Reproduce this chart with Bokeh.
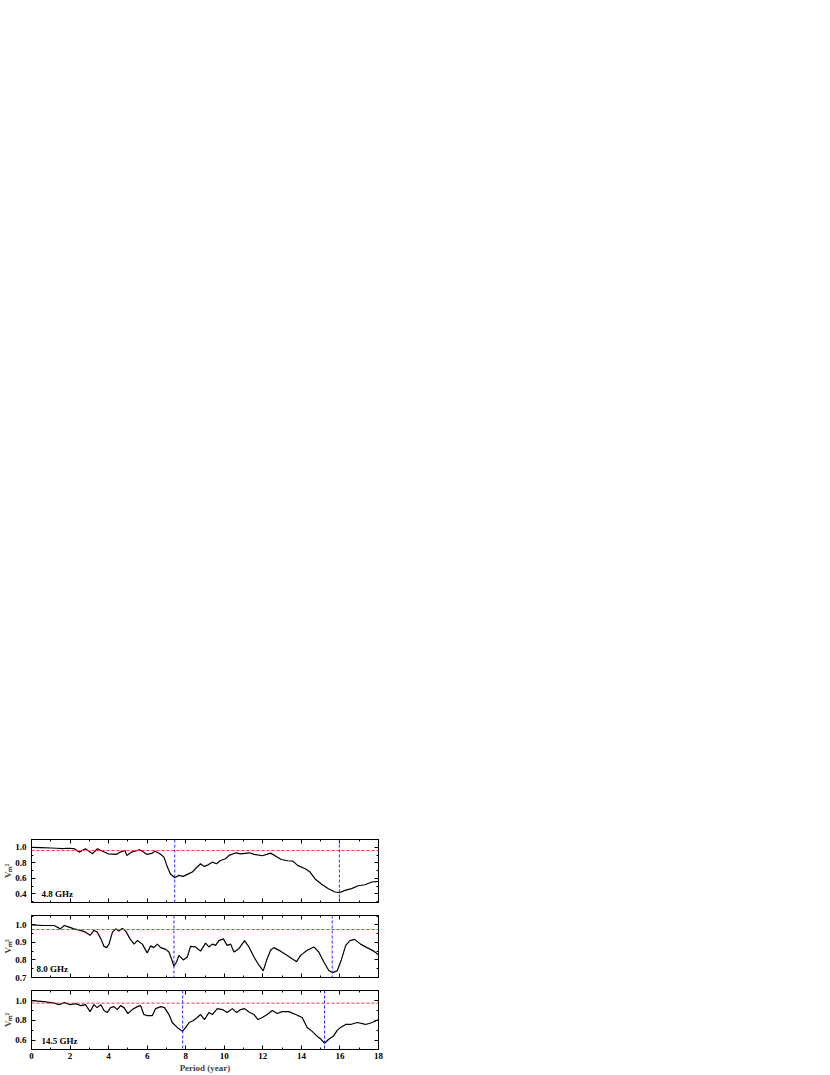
from bokeh.plotting import figure
from bokeh.layouts import column
from bokeh.models import (Range1d, LinearAxis, SingleIntervalTicker,
                          PrintfTickFormatter, Span, Label)
from bokeh.embed import file_html
from bokeh.resources import INLINE

# ---------------- data ----------------
period_48 = [0, 0.5, 1.0, 1.3, 1.6, 1.9, 2.2, 2.47, 2.8, 3.16, 3.42, 3.6, 3.98, 4.4, 4.6,
             4.85, 4.94, 5.2, 5.6, 5.75, 6.0, 6.27, 6.4, 6.66, 6.87, 7.05, 7.2, 7.43, 7.65,
             7.87, 8.08, 8.34, 8.5, 8.77, 8.94, 9.1, 9.38, 9.6, 9.8, 10.07, 10.25, 10.6,
             10.85, 11.3, 11.55, 11.98, 12.4, 12.7, 12.95, 13.3, 13.56, 13.8, 14.2, 14.45,
             14.7, 15.05, 15.4, 15.75, 15.97, 16.26, 16.6, 16.95, 17.3, 17.65, 18.0]
vm2_48 = [1.0, 0.997, 0.993, 0.99, 0.985, 0.99, 0.985, 0.94, 0.983, 0.918, 0.983, 0.961,
          0.918, 0.91, 0.94, 0.961, 0.897, 0.94, 0.97, 0.95, 0.91, 0.927, 0.95, 0.918,
          0.875, 0.746, 0.66, 0.609, 0.639, 0.626, 0.652, 0.682, 0.725, 0.789, 0.755,
          0.768, 0.81, 0.789, 0.832, 0.854, 0.897, 0.931, 0.918, 0.931, 0.91, 0.893,
          0.927, 0.884, 0.844, 0.828, 0.823, 0.768, 0.725, 0.682, 0.596, 0.523, 0.467,
          0.424, 0.415, 0.445, 0.467, 0.505, 0.518, 0.553, 0.561]

period_80 = [0, 0.65, 1.17, 1.5, 1.7, 1.95, 2.2, 2.55, 2.8, 3.04, 3.24, 3.4, 3.6, 3.76,
             3.9, 4.02, 4.2, 4.37, 4.54, 4.7, 4.89, 5.11, 5.32, 5.49, 5.75, 6.0, 6.18,
             6.35, 6.53, 6.7, 6.96, 7.13, 7.25, 7.39, 7.53, 7.65, 7.87, 8.08, 8.25, 8.51,
             8.77, 9.03, 9.2, 9.38, 9.55, 9.72, 9.95, 10.15, 10.33, 10.5, 10.76, 11.05,
             11.28, 11.54, 11.8, 12.02, 12.2, 12.4, 12.57, 12.92, 13.35, 13.75, 13.96,
             14.3, 14.65, 14.9, 15.16, 15.42, 15.6, 15.86, 16.07, 16.3, 16.52, 16.76,
             17.07, 17.4, 17.76, 18.0]
vm2_80 = [1.0, 0.996, 0.996, 0.977, 0.996, 0.987, 0.977, 0.968, 0.958, 0.94, 0.968, 0.96,
          0.92, 0.877, 0.87, 0.89, 0.958, 0.977, 0.964, 0.98, 0.964, 0.92, 0.89, 0.91,
          0.89, 0.84, 0.88, 0.87, 0.89, 0.87, 0.86, 0.845, 0.81, 0.764, 0.79, 0.826, 0.80,
          0.817, 0.877, 0.874, 0.85, 0.896, 0.874, 0.89, 0.883, 0.91, 0.92, 0.883, 0.89,
          0.845, 0.864, 0.91, 0.874, 0.817, 0.77, 0.738, 0.80, 0.855, 0.87, 0.85, 0.82,
          0.79, 0.826, 0.855, 0.874, 0.845, 0.79, 0.74, 0.728, 0.738, 0.80, 0.883, 0.91,
          0.917, 0.89, 0.87, 0.85, 0.83]

period_145 = [0, 0.65, 1.17, 1.43, 1.7, 2.0, 2.3, 2.55, 2.8, 3.04, 3.24, 3.4, 3.6, 3.76,
              3.93, 4.1, 4.28, 4.45, 4.62, 4.8, 5.0, 5.23, 5.49, 5.66, 5.83, 6.0, 6.27,
              6.44, 6.7, 6.9, 7.13, 7.3, 7.56, 7.83, 8.0, 8.18, 8.4, 8.6, 8.77, 8.98, 9.2,
              9.38, 9.64, 9.9, 10.15, 10.42, 10.64, 10.85, 11.05, 11.28, 11.54, 11.75,
              11.97, 12.23, 12.49, 12.75, 13.0, 13.35, 13.7, 14.04, 14.3, 14.56, 14.82,
              15.02, 15.2, 15.42, 15.65, 15.86, 16.03, 16.3, 16.55, 16.9, 17.33, 17.68, 18.0]
vm2_145 = [1.0, 0.99, 0.975, 0.96, 0.98, 0.96, 0.97, 0.95, 0.96, 0.89, 0.96, 0.93, 0.96,
           0.90, 0.88, 0.93, 0.94, 0.91, 0.95, 0.93, 0.87, 0.91, 0.94, 0.95, 0.86, 0.85,
           0.85, 0.92, 0.94, 0.93, 0.86, 0.78, 0.73, 0.69, 0.73, 0.78, 0.80, 0.83, 0.86,
           0.81, 0.88, 0.86, 0.92, 0.91, 0.88, 0.92, 0.88, 0.91, 0.92, 0.885, 0.86, 0.81,
           0.83, 0.86, 0.90, 0.87, 0.89, 0.89, 0.86, 0.83, 0.73, 0.69, 0.64, 0.61, 0.57,
           0.61, 0.64, 0.70, 0.73, 0.76, 0.76, 0.78, 0.76, 0.78, 0.81]

band_labels = ["4.8 GHz", "8.0 GHz", "14.5 GHz"]
y_label = "V\u2098\u00b2"
thresholds = [0.96, 0.973, 0.975]
peak_periods = [[7.43, 15.97], [7.39, 15.6], [7.84, 15.2]]
y_ranges = [(0.288, 1.103), (0.70, 1.053), (0.507, 1.103)]
y_tick_steps = [0.2, 0.1, 0.2]

# ---------------- style ----------------
FONT = "Liberation Serif"
FRAME_W = 347
LEFT = 31
RIGHT = 8
W = LEFT + FRAME_W + RIGHT


def style_axis(ax, ticker, show_labels):
    ax.ticker = ticker
    ax.major_tick_in = 4
    ax.major_tick_out = 0
    ax.minor_tick_in = 2
    ax.minor_tick_out = 0
    ax.axis_line_color = "black"
    ax.major_tick_line_color = "black"
    ax.minor_tick_line_color = "black"
    ax.major_label_text_font = FONT
    ax.major_label_text_font_style = "bold"
    ax.major_label_text_color = "black"
    ax.major_label_text_font_size = "9px"
    ax.major_label_standoff = 4
    if not show_labels:
        ax.major_label_text_color = None
        ax.major_label_text_font_size = "1px"
        ax.major_label_standoff = 0


def make_panel(x, y, yr, ystep, hline, vlines, name, top, fh, bottom, show_x):
    p = figure(width=W, height=top + fh + bottom,
               x_range=Range1d(0, 18), y_range=Range1d(*yr),
               output_backend="svg", toolbar_location=None,
               min_border_left=LEFT, min_border_right=RIGHT,
               min_border_top=top, min_border_bottom=bottom)
    p.xgrid.visible = False
    p.ygrid.visible = False
    p.outline_line_color = "black"
    p.outline_line_width = 1
    p.background_fill_color = "white"
    p.border_fill_color = "white"

    xt = SingleIntervalTicker(interval=2, num_minor_ticks=2)
    yt = SingleIntervalTicker(interval=ystep, num_minor_ticks=2)
    ax_bottom = p.below[0]
    ax_left = p.left[0]
    style_axis(ax_bottom, xt, show_x)
    style_axis(ax_left, yt, True)
    ax_left.formatter = PrintfTickFormatter(format="%.1f")
    ax_left.major_label_standoff = 5
    ax_left.axis_label = y_label
    ax_left.axis_label_text_font = FONT
    ax_left.axis_label_text_font_style = "bold"
    ax_left.axis_label_text_font_size = "9px"
    ax_left.axis_label_standoff = -1

    ax_top = LinearAxis()
    style_axis(ax_top, xt, False)
    p.add_layout(ax_top, "above")
    ax_right = LinearAxis()
    style_axis(ax_right, yt, False)
    p.add_layout(ax_right, "right")

    if show_x:
        ax_bottom.axis_label = "Period (year)"
        ax_bottom.axis_label_text_font = FONT
        ax_bottom.axis_label_text_font_style = "bold"
        ax_bottom.axis_label_text_font_size = "9px"
        ax_bottom.axis_label_standoff = 1
        ax_bottom.major_label_standoff = 3

    p.add_layout(Span(location=hline, dimension="width", line_color="#ff3030",
                      line_width=1, line_dash="3 2"))
    for v in vlines:
        p.add_layout(Span(location=v, dimension="height", line_color="#2b2bff",
                          line_width=1, line_dash="3 2"))

    p.line(x, y, line_color="black", line_width=1.2)

    ylo, yhi = yr
    ppx = FRAME_W / 18.0
    name_dx = 5 if name.startswith("8") else 10
    p.add_layout(Label(x=name_dx / ppx, y=yhi - (fh - 9) / fh * (yhi - ylo), text=name,
                       text_font=FONT, text_font_style="bold", text_font_size="9px",
                       text_align="left", text_baseline="middle", text_color="black"))
    return p


p1 = make_panel(period_48, vm2_48, y_ranges[0], y_tick_steps[0], thresholds[0],
                peak_periods[0], band_labels[0], 839, 63, 6, False)
p2 = make_panel(period_80, vm2_80, y_ranges[1], y_tick_steps[1], thresholds[1],
                peak_periods[1], band_labels[1], 7, 62, 6, False)
p3 = make_panel(period_145, vm2_145, y_ranges[2], y_tick_steps[2], thresholds[2],
                peak_periods[2], band_labels[2], 7, 62, 23, True)

layout = column(p1, p2, p3)

open("out.html", "w").write(file_html(layout, INLINE))
